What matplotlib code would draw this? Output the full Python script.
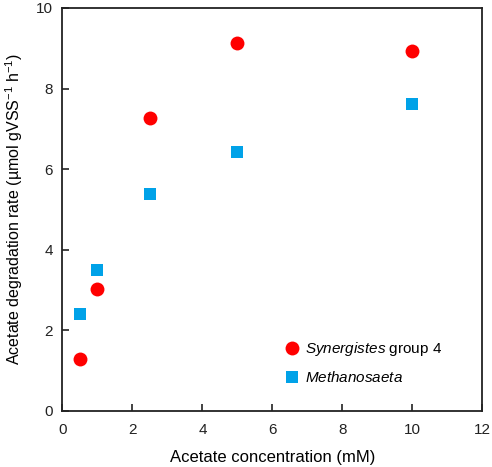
import matplotlib
matplotlib.use('Agg')
import matplotlib.pyplot as plt

plt.rcParams['font.family'] = ['Liberation Sans', 'DejaVu Sans']
plt.rcParams['mathtext.fontset'] = 'custom'
plt.rcParams['mathtext.rm'] = 'Liberation Sans'
plt.rcParams['mathtext.it'] = 'Liberation Sans:italic'

# acetate concentration (mM)
conc = [0.5, 1, 2.5, 5, 10]
synergistes = [1.29, 3.02, 7.26, 9.12, 8.93]
methanosaeta = [2.40, 3.49, 5.38, 6.43, 7.62]

fig = plt.figure(figsize=(4.92, 4.67), dpi=100)
ax = fig.add_axes([0.127, 0.12, 0.853, 0.863])

ax.plot(conc, synergistes, 'o', color='#ff0000', markersize=10, markeredgewidth=0,
        label=r'$\it{Synergistes}$ group 4')
ax.plot(conc, methanosaeta, 's', color='#00a2e8', markersize=8, markeredgewidth=0,
        label=r'$\it{Methanosaeta}$')

ax.set_xlim(0, 12)
ax.set_ylim(0, 10)
ax.set_xticks(range(0, 13, 2))
ax.set_yticks(range(0, 11, 2))
ax.tick_params(direction='in', length=5, width=1.2, labelsize=11, colors='#222222')
ax.tick_params(axis='x', pad=9)
ax.tick_params(axis='y', pad=7)
for s in ax.spines.values():
    s.set_linewidth(1.3)
    s.set_color('#222222')

ax.set_xlabel('Acetate concentration (mM)', fontsize=12, labelpad=9)
ax.set_ylabel('Acetate degradation rate (µmol gVSS$^{\\mathrm{-1}}$ h$^{\\mathrm{-1}}$)',
              fontsize=11.5, labelpad=8)

ax.legend(loc='upper left', bbox_to_anchor=(0.51, 0.19), frameon=False, fontsize=11,
          handletextpad=0.25, labelspacing=0.75, handlelength=1.2, borderaxespad=0)

fig.savefig('out.png', dpi=100)
